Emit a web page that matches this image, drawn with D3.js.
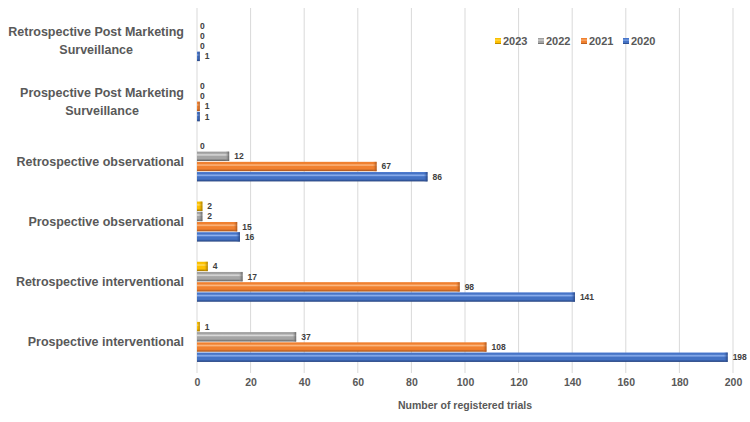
<!DOCTYPE html>
<html><head><meta charset="utf-8">
<script src="https://cdn.jsdelivr.net/npm/d3@7"></script>
<style>body{margin:0;background:#fff}svg{display:block;font-family:"Liberation Sans",Arial,sans-serif}</style>
</head><body><svg id="c" width="750" height="422"></svg>
<script>
const categories = ["Prospective interventional","Retrospective interventional","Prospective observational","Retrospective observational","Prospective Post Marketing\nSurveillance","Retrospective Post Marketing\nSurveillance"];
const years = ["2020","2021","2022","2023"];
const v2020 = [198,141,16,86,1,1];
const v2021 = [108,98,15,67,1,0];
const v2022 = [37,17,2,12,0,0];
const v2023 = [1,4,2,0,0,0];
const xTicks = [0,20,40,60,80,100,120,140,160,180,200];
const legendOrder = ["2023","2022","2021","2020"];
const seriesVals = {"2020":v2020,"2021":v2021,"2022":v2022,"2023":v2023};

const colors = {
  "2020":{top:"#4a78d0",hi:"#8fb2f0",mid:"#4472c4",bot:"#233f7a"},
  "2021":{top:"#f08030",hi:"#fcb983",mid:"#f0802f",bot:"#a0501a"},
  "2022":{top:"#9a9a9a",hi:"#dcdcdc",mid:"#a5a5a5",bot:"#5e5e5e"},
  "2023":{top:"#f0c000",hi:"#ffe066",mid:"#ffc000",bot:"#9a7000"}
};

const svg = d3.select("#c");
const defs = svg.append("defs");
years.forEach(y=>{
  const c = colors[y];
  const g = defs.append("linearGradient").attr("id","g"+y).attr("x1",0).attr("y1",0).attr("x2",0).attr("y2",1);
  [[0,c.top],[0.18,c.mid],[0.35,c.hi],[0.5,c.mid],[0.75,c.mid],[1,c.bot]].forEach(s=>g.append("stop").attr("offset",s[0]).attr("stop-color",s[1]));
  const gh = defs.append("linearGradient").attr("id","h"+y).attr("x1",0).attr("y1",0).attr("x2",1).attr("y2",0);
  gh.append("stop").attr("offset",0).attr("stop-color",c.mid).attr("stop-opacity",0);
  gh.append("stop").attr("offset",1).attr("stop-color",c.bot).attr("stop-opacity",0.9);
});

const x = d3.scaleLinear().domain([0,200]).range([197,733]);
const y = d3.scaleBand().domain(categories).range([372,11]);
const yi = d3.scaleBand().domain(["2023","2022","2021","2020"]).range([0,40]).paddingInner(0.08);
const bandOffset = (y.bandwidth()-40)/2;

// gridlines
svg.append("g").selectAll("line").data(xTicks).join("line")
  .attr("x1",d=>x(d)).attr("x2",d=>x(d)).attr("y1",8).attr("y2",373)
  .attr("stroke","#d9d9d9").attr("stroke-width",1);

// x axis
const xAxis = svg.append("g").attr("transform","translate(0,373)")
  .call(d3.axisBottom(x).tickValues(xTicks).tickSize(0).tickPadding(6));
xAxis.select(".domain").remove();
xAxis.selectAll("text").attr("font-size","10.5px").attr("font-weight","bold").attr("fill","#595959").attr("font-family","Liberation Sans, Arial, sans-serif");

svg.append("text").attr("x",465).attr("y",409).attr("text-anchor","middle")
  .attr("font-size","10.5px").attr("font-weight","bold").attr("fill","#595959").text("Number of registered trials");

// bars
const groups = svg.append("g").selectAll("g").data(categories).join("g")
  .attr("transform",d=>`translate(0,${y(d)+bandOffset})`);
years.forEach(yr=>{
  groups.each(function(cat,i){
    const v = seriesVals[yr][i];
    const g = d3.select(this);
    const by = yi(yr), bh = yi.bandwidth();
    if (v>0){
      g.append("rect").attr("x",x(0)).attr("y",by).attr("width",x(v)-x(0)).attr("height",bh).attr("fill",`url(#g${yr})`);
      const w = Math.min(4,(x(v)-x(0)));
      g.append("rect").attr("x",x(v)-w).attr("y",by).attr("width",w).attr("height",bh).attr("fill",`url(#h${yr})`);
    }
    g.append("text").attr("x",x(v)+(v>0?5:3)).attr("y",by+bh/2).attr("dy","0.35em")
      .attr("font-size","8.5px").attr("font-weight","bold").attr("fill","#404040").text(v);
  });
});

// category labels
const labelG = svg.append("g");
categories.forEach(cat=>{
  const lines = cat.split("\n");
  const cy = y(cat)+y.bandwidth()/2;
  const t = labelG.append("text").attr("font-size","12.5px").attr("font-weight","bold").attr("fill","#595959").attr("text-anchor","middle");
  const lh = 18;
  lines.forEach((ln,k)=>{
    t.append("tspan").attr("x",0).attr("y",cy+(k-(lines.length-1)/2)*lh).attr("dy","0.35em").text(ln);
  });
  let maxW = 0;
  t.selectAll("tspan").each(function(){maxW=Math.max(maxW,this.getComputedTextLength());});
  t.selectAll("tspan").attr("x",184-maxW/2);
});

// legend
const legX = {"2023":495,"2022":538,"2021":581,"2020":623};
const leg = svg.append("g");
legendOrder.forEach(yr=>{
  leg.append("rect").attr("x",legX[yr]).attr("y",38).attr("width",6).attr("height",6).attr("fill",`url(#g${yr})`);
  leg.append("text").attr("x",legX[yr]+8).attr("y",41).attr("dy","0.35em").attr("font-size","11px").attr("font-weight","bold").attr("fill","#595959").text(yr);
});
</script></body></html>
